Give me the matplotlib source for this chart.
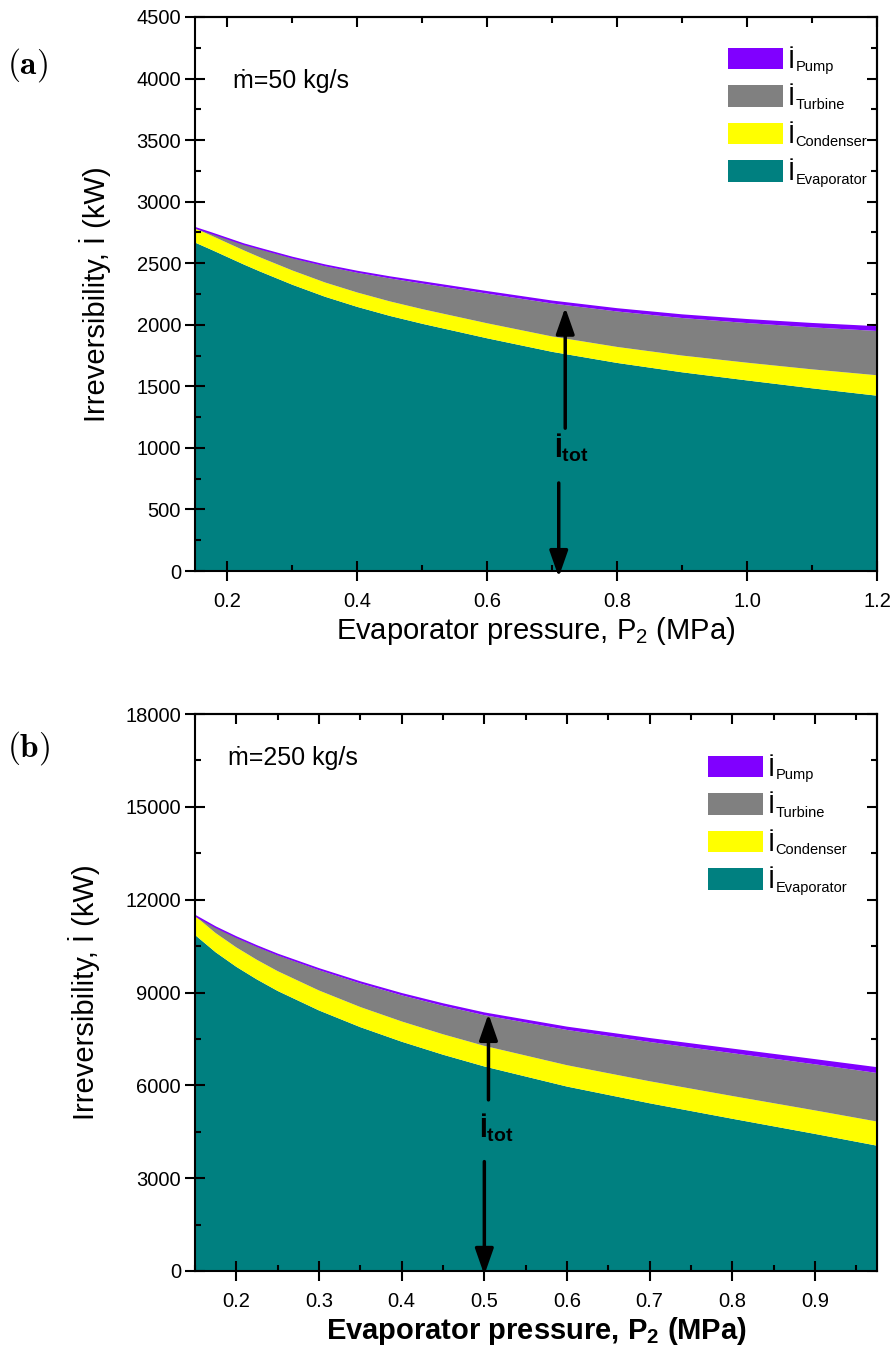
import matplotlib
matplotlib.use('Agg')
import matplotlib.pyplot as plt
from matplotlib.patches import Patch
from matplotlib.ticker import MultipleLocator

plt.rcParams['font.family'] = ['Liberation Sans', 'DejaVu Sans']
plt.rcParams['mathtext.fontset'] = 'custom'
plt.rcParams['mathtext.rm'] = 'Liberation Sans'
plt.rcParams['mathtext.it'] = 'Liberation Sans:italic'
plt.rcParams['mathtext.bf'] = 'Liberation Sans:bold'

# (a) m = 50 kg/s
p_a = [0.15, 0.175, 0.2, 0.225, 0.25, 0.3, 0.35, 0.4, 0.45, 0.5,
       0.6, 0.7, 0.8, 0.9, 1.0, 1.1, 1.2]
evap_a = [2668, 2610, 2550, 2490, 2433, 2325, 2228, 2145, 2072, 2008,
          1890, 1780, 1690, 1614, 1548, 1484, 1424]
cond_a = [115, 115, 115, 115, 115, 116, 116, 117, 118, 119,
          122, 125, 130, 136, 144, 154, 166]
turb_a = [2, 17, 31, 46, 65, 99, 133, 161, 187, 208,
          241, 268, 288, 305, 322, 341, 360]
pump_a = [3, 3, 4, 4, 5, 6, 7, 9, 10, 12,
          14, 17, 20, 23, 26, 29, 32]

# (b) m = 250 kg/s
p_b = [0.15, 0.175, 0.2, 0.225, 0.25, 0.3, 0.35, 0.4, 0.45, 0.5,
       0.6, 0.7, 0.8, 0.9, 0.975]
evap_b = [10860, 10300, 9830, 9420, 9050, 8420, 7880, 7410, 6990, 6610,
          5960, 5420, 4920, 4430, 4050]
cond_b = [615, 620, 628, 634, 640, 645, 650, 655, 660, 666,
          690, 712, 735, 760, 780]
turb_b = [0, 176, 314, 424, 514, 662, 765, 845, 920, 992,
          1140, 1270, 1385, 1490, 1570]
pump_b = [10, 14, 18, 22, 26, 33, 40, 47, 55, 62,
          80, 100, 120, 140, 160]

colors = ['#008080', '#ffff00', '#808080', '#8000ff']
names = ['Evaporator', 'Condenser', 'Turbine', 'Pump']

fig = plt.figure(figsize=(8.96, 13.58), dpi=100)
ax1 = fig.add_axes([195/896, 1-571/1358, 682/896, 554/1358])
ax2 = fig.add_axes([195/896, 1-1271/1358, 682/896, 557/1358])


def draw_panel(ax, p, evap, cond, turb, pump, xlim, ylim, xmaj, xmin, ymaj, ymin):
    ax.stackplot(p, evap, cond, turb, pump, colors=colors, lw=0)
    top = [e + c + t + q for e, c, t, q in zip(evap, cond, turb, pump)]
    ax.plot(p, top, color='#8000ff', lw=1.2)
    ax.set_xlim(*xlim)
    ax.set_ylim(*ylim)
    ax.xaxis.set_major_locator(MultipleLocator(xmaj))
    ax.xaxis.set_minor_locator(MultipleLocator(xmin))
    ax.yaxis.set_major_locator(MultipleLocator(ymaj))
    ax.yaxis.set_minor_locator(MultipleLocator(ymin))
    ax.tick_params(which='major', direction='inout', length=14, width=1.5,
                   labelsize=14.5)
    ax.tick_params(axis='x', which='major', pad=8)
    ax.tick_params(axis='y', which='major', pad=3)
    ax.tick_params(which='minor', direction='in', length=4, width=1.5)
    for s in ax.spines.values():
        s.set_linewidth(1.5)
    # ticks on top and right point inwards only
    sx = ax.secondary_xaxis('top')
    sx.xaxis.set_major_locator(MultipleLocator(xmaj))
    sx.xaxis.set_minor_locator(MultipleLocator(xmin))
    sx.tick_params(which='major', direction='in', length=7, width=1.5, labeltop=False)
    sx.tick_params(which='minor', direction='in', length=4, width=1.5)
    sx.spines['top'].set_linewidth(1.5)
    sy = ax.secondary_yaxis('right')
    sy.yaxis.set_major_locator(MultipleLocator(ymaj))
    sy.yaxis.set_minor_locator(MultipleLocator(ymin))
    sy.tick_params(which='major', direction='in', length=7, width=1.5, labelright=False)
    sy.tick_params(which='minor', direction='in', length=4, width=1.5)
    sy.spines['right'].set_linewidth(1.5)


def add_legend(ax, anchor):
    order = [3, 2, 1, 0]
    handles = [Patch(facecolor=colors[i], edgecolor='none') for i in order]
    leg = ax.legend(handles, ['İ'] * 4, loc='upper left', bbox_to_anchor=anchor,
                    bbox_transform=fig.transFigure, frameon=False, fontsize=19,
                    handlelength=2.1, handleheight=0.87, handletextpad=0.15,
                    labelspacing=0.48, borderpad=0, borderaxespad=0)
    # small subscript names next to each İ
    for txt, i in zip(leg.get_texts(), order):
        ax.annotate(names[i], xy=(1, 0), xycoords=txt, xytext=(0.5, 1.0),
                    textcoords='offset points', fontsize=10.5, va='baseline',
                    ha='left', zorder=6)


arrow = dict(arrowstyle='-|>,head_length=0.8,head_width=0.28', lw=2.5,
             color='k', mutation_scale=20, shrinkA=0, shrinkB=0)

draw_panel(ax1, p_a, evap_a, cond_a, turb_a, pump_a, (0.15, 1.2), (0, 4500),
           0.2, 0.1, 500, 250)
add_legend(ax1, (728/896, 1-48/1358))
ax1.set_ylabel('Irreversibility, İ (kW)', fontsize=21, labelpad=18)
ax1.set_xlabel('Evaporator pressure, P$_2$ (MPa)', fontsize=21, labelpad=3)
ax1.text(0.056, 0.885, 'ṁ=50 kg/s', transform=ax1.transAxes, fontsize=18,
         va='center', ha='left')
ax1.annotate('', xy=(0.72, 2140), xytext=(0.72, 1160), arrowprops=arrow,
             annotation_clip=False)
ax1.annotate('', xy=(0.71, -50), xytext=(0.71, 715), arrowprops=arrow,
             annotation_clip=False)
ax1.text(0.703, 1000, 'İ$_{\\mathbf{tot}}$', fontsize=20, fontweight='bold',
         ha='left', va='center')

draw_panel(ax2, p_b, evap_b, cond_b, turb_b, pump_b, (0.15, 0.975), (0, 18000),
           0.1, 0.05, 3000, 1500)
add_legend(ax2, (708/896, 1-756/1358))
ax2.set_ylabel('Irreversibility, İ (kW)', fontsize=21, labelpad=18)
ax2.set_xlabel('Evaporator pressure, P$_\\mathbf{2}$ (MPa)', fontsize=21,
               fontweight='bold', labelpad=3)
ax2.text(0.048, 0.921, 'ṁ=250 kg/s', transform=ax2.transAxes, fontsize=18,
         va='center', ha='left')
ax2.annotate('', xy=(0.505, 8310), xytext=(0.505, 5530), arrowprops=arrow,
             annotation_clip=False)
ax2.annotate('', xy=(0.50, -130), xytext=(0.50, 3535), arrowprops=arrow,
             annotation_clip=False)
ax2.text(0.493, 4620, 'İ$_{\\mathbf{tot}}$', fontsize=20, fontweight='bold',
         ha='left', va='center')

fig.text(0.008, 1-65/1358, r'$\mathbf{(a)}$', fontsize=24, math_fontfamily='cm',
         va='center', ha='left')
fig.text(0.008, 1-748/1358, r'$\mathbf{(b)}$', fontsize=24, math_fontfamily='cm',
         va='center', ha='left')

fig.savefig('out.png', dpi=100)
